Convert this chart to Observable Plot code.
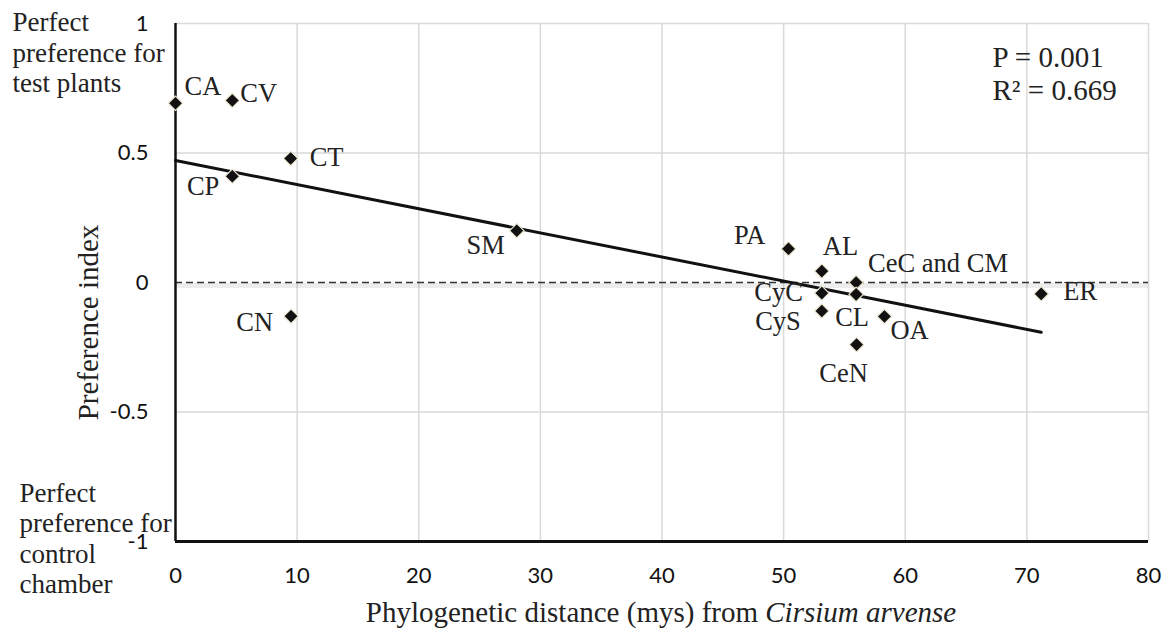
<!DOCTYPE html>
<html><head><meta charset="utf-8">
<script src="https://cdn.jsdelivr.net/npm/d3@7"></script>
<script src="https://cdn.jsdelivr.net/npm/@observablehq/plot@0.6"></script>
<style>body{margin:0;background:#fff}</style>
</head><body><div id="chart"></div>
<script>
// Data
const species    = ["CA","CV","CP","CT","CN","SM","PA","AL","CyC","CyS","CeC and CM","CL","OA","CeN","ER"];
const distance   = [0, 4.67, 4.67, 9.47, 9.5, 28.06, 50.4, 53.14, 53.14, 53.14, 55.96, 55.96, 58.29, 56.0, 71.18];
const preference = [0.692, 0.703, 0.41, 0.479, -0.13, 0.2, 0.13, 0.044, -0.041, -0.11, 0, -0.046, -0.131, -0.24, -0.044];
// fitted trend line end points
const trendX = [0, 71.18];
const trendY = [0.471, -0.192];
const xTicks = [0, 10, 20, 30, 40, 50, 60, 70, 80];
const yTicks = [-1, -0.5, 0, 0.5, 1];
const yGrid = [1, 0.5, -0.5];
const stats = ["P = 0.001", "R\u00B2 = 0.669"];
const xTitle = "Phylogenetic distance (mys) from ";
const xTitleItalic = "Cirsium arvense";

// label placement (styling only): [dx, dy, textAnchor]
const labelPlacement = {
  "CA": [9, -17, "start"], "CV": [8, -7, "start"], "CP": [-13, 10, "end"],
  "CT": [19, -1, "start"], "CN": [-18, 6, "end"], "SM": [-12, 15, "end"],
  "PA": [-23, -13, "end"], "AL": [1, -25, "start"], "CyC": [-19, -1, "end"],
  "CyS": [-21, 11, "end"], "CeC and CM": [12, -19, "start"], "CL": [-4, 23, "middle"],
  "OA": [6, 14, "start"], "CeN": [-13, 29, "middle"], "ER": [22, -2, "start"]
};

const points = species.map((s, i) => ({species: s, x: distance[i], y: preference[i]}));
const trend = trendX.map((x, i) => ({x, y: trendY[i]}));

const serif = "Liberation Serif";
const sans = "Lato";
const ink = "#222";

const plot = Plot.plot({
  width: 1168, height: 633,
  marginLeft: 175, marginRight: 20, marginTop: 23, marginBottom: 92,
  x: {domain: [0, 80]},
  y: {domain: [-1, 1]},
  marks: [
    Plot.gridX(xTicks.slice(1), {stroke: "#d9d9d9", strokeOpacity: 1, strokeWidth: 1.5}),
    Plot.gridY(yGrid, {stroke: "#d9d9d9", strokeOpacity: 1, strokeWidth: 1.5}),
    Plot.ruleY([0], {stroke: "#000", strokeOpacity: 0.07, strokeWidth: 5, dy: 3}),
    Plot.ruleY([0], {stroke: "#333", strokeWidth: 1.5, strokeDasharray: "7,4"}),
    Plot.ruleX([0], {stroke: "#111", strokeWidth: 2.5}),
    Plot.ruleY([-1], {stroke: "#111", strokeWidth: 3}),
    Plot.line(trend, {x: "x", y: "y", stroke: "#111", strokeWidth: 3}),
    Plot.dot(points, {x: "x", y: "y", symbol: "diamond2", r: 6.5, fill: "#111", stroke: "#ece7d3", strokeWidth: 1.2}),
    ...points.map(p => {
      const [dx, dy, anchor] = labelPlacement[p.species];
      return Plot.text([p], {x: "x", y: "y", text: "species", dx, dy, textAnchor: anchor,
        fontFamily: serif, fontSize: 26.5, fill: ink});
    }),
    Plot.axisX(xTicks, {tickSize: 0, tickPadding: 26, tickFormat: d => String(d), fontSize: 22, label: null, fill: "#111"}),
    Plot.axisY(yTicks, {tickSize: 0, tickPadding: 27, tickFormat: d => String(d), fontSize: 22, label: null, fill: "#111"}),
    Plot.text(["Preference index"], {frameAnchor: "left", text: d => d, rotate: -90, dx: -87, dy: 40,
      textAnchor: "middle", fontFamily: serif, fontSize: 29, fill: ink, lineAnchor: "middle"}),
    Plot.text([xTitle + xTitleItalic], {frameAnchor: "bottom", text: d => d,
      dx: -1, dy: 71, textAnchor: "middle", fontFamily: serif, fontSize: 29, fill: ink, lineAnchor: "middle"}),
    Plot.text(["Perfect\npreference for\ntest plants"], {frameAnchor: "top-left", text: d => d, dx: -163, dy: 28.5,
      textAnchor: "start", lineAnchor: "middle", lineHeight: 1.12, fontFamily: serif, fontSize: 27, fill: ink}),
    Plot.text(["Perfect\npreference for\ncontrol\nchamber"], {frameAnchor: "bottom-left", text: d => d, dx: -156, dy: -3.6,
      textAnchor: "start", lineAnchor: "middle", lineHeight: 1.12, fontFamily: serif, fontSize: 27, fill: ink}),
    Plot.text([stats[0]], {frameAnchor: "top-right", text: d => d, dx: -156, dy: 34.3, textAnchor: "start", lineAnchor: "middle",
      fontFamily: serif, fontSize: 29, fill: ink}),
    Plot.text([stats[1]], {frameAnchor: "top-right", text: d => d, dx: -156, dy: 67.6, textAnchor: "start", lineAnchor: "middle",
      fontFamily: serif, fontSize: 29, fill: ink})
  ]
});

// fonts: tick labels sans, everything else serif
const svg = d3.select(plot);
svg.selectAll("text").style("font-family", serif);
svg.selectAll("g[aria-label$='tick label'] text").style("font-family", sans);

// italicize the species name in the x title
svg.selectAll("text").filter(function() { return this.textContent === xTitle + xTitleItalic; })
  .each(function() {
    const t = d3.select(this);
    t.text(null);
    t.append("tspan").text(xTitle);
    t.append("tspan").attr("font-style", "italic").text(xTitleItalic);
  });

document.getElementById("chart").appendChild(plot);
</script>
</body></html>
